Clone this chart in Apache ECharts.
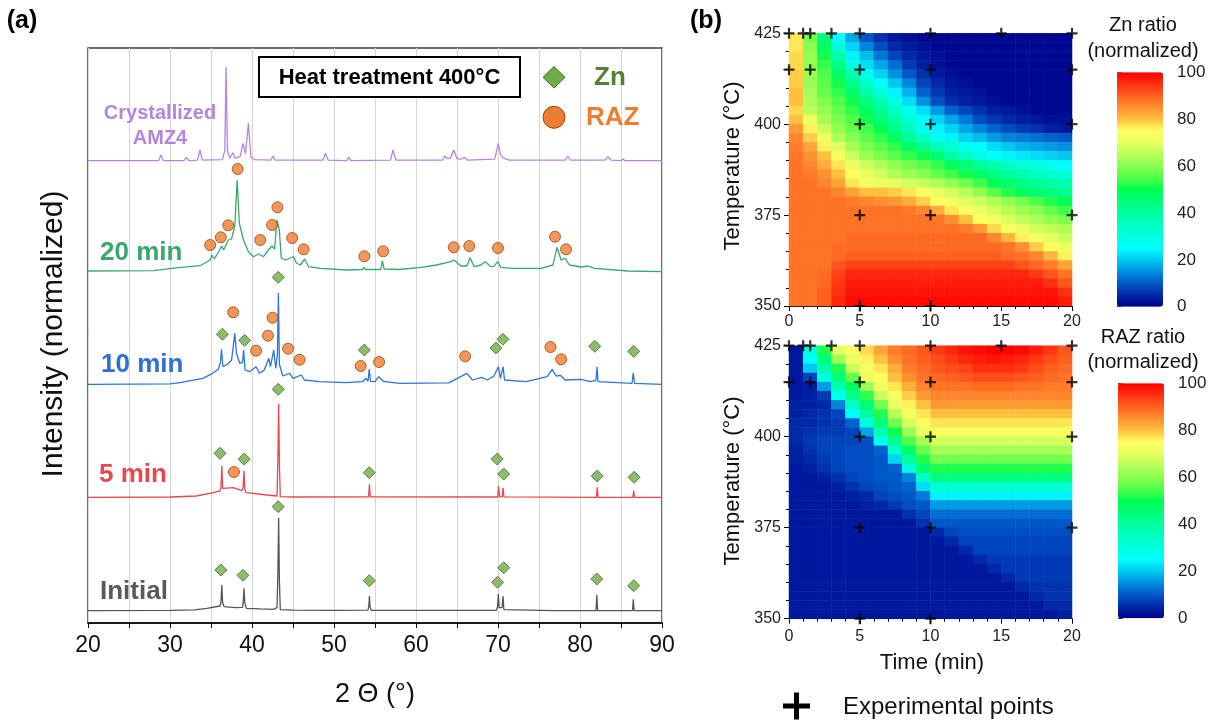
<!DOCTYPE html>
<html><head><meta charset="utf-8">
<script src="https://cdn.jsdelivr.net/npm/echarts@6.0.0/dist/echarts.min.js"></script>
<style>html,body{margin:0;padding:0;background:#fff}#c{width:1213px;height:722px}</style>
</head><body><div id="c"></div>
<script>
// ================= DATA =================
// (a) XRD patterns: [2theta (deg), intensity above own baseline]
const twoThetaLabels = [20, 30, 40, 50, 60, 70, 80, 90];
const patternNames = ['Initial', '5 min', '10 min', '20 min', 'Crystallized AMZ4'];
const baselineOffsets = [12.3, 125.7, 238.7, 352, 462.3];

const initialPattern = [[20,0],[30,0.3],[33,0.8],[34.5,2.4],[36.1,4.7],[36.22,9],[36.32,25.7],[36.42,8],[36.6,4],[38.0,3],[38.85,3.3],[38.95,10],[39.03,22.4],[39.12,8],[39.3,2.4],[41,1.8],[42.6,1.4],[43.05,3],[43.15,35],[43.25,93],[43.34,30],[43.45,1],[45,0.5],[50,0.3],[54.15,0.5],[54.25,5],[54.32,14.7],[54.4,4],[54.55,0.3],[69.8,0.3],[69.95,4],[70.04,16.7],[70.15,3],[70.5,3],[70.61,14.7],[70.72,1],[76.9,0],[77.0,2],[77.1,0],[81.95,0],[82.05,15.7],[82.15,0],[83.8,0],[83.9,1.5],[84.0,0],[86.4,0],[86.5,11.4],[86.6,0],[90,0]];
const fiveMinPattern = [[20,0],[30,0.3],[33.2,1.3],[35.3,4.6],[36.1,6.5],[36.22,10],[36.32,31.3],[36.42,9],[36.6,7.3],[37.7,9.6],[38.75,6.6],[38.92,10],[39.02,26.6],[39.12,8],[39.3,4.6],[41.8,2.3],[43.05,1.3],[43.15,35],[43.25,93.3],[43.35,30],[43.45,0.6],[45,0.3],[54.22,0.5],[54.32,13],[54.42,0.5],[69.98,0.3],[70.06,11.3],[70.2,0.5],[70.52,0.5],[70.62,9.6],[70.72,0.5],[82.0,0],[82.1,10],[82.2,0],[86.45,0],[86.55,6.6],[86.65,0],[90,0]];
const tenMinPattern = [[20,0],[30,0.5],[31.2,1.6],[34.0,6],[35.2,11],[35.9,15],[36.15,22],[36.28,35],[36.45,17.6],[37.05,20.3],[37.5,24],[37.75,40],[37.9,51],[38.1,31.3],[38.5,21],[38.85,22],[38.98,34.3],[39.15,14.3],[39.7,12.6],[40.5,17.6],[40.9,11],[41.5,14.3],[42.05,26],[42.25,17.6],[42.65,34.3],[42.9,16],[43.1,30],[43.22,91.6],[43.34,20],[43.75,8.3],[44.6,11],[45.0,6],[46.0,9.3],[46.4,4.3],[48.2,2.6],[51.5,1.6],[53.5,2.6],[53.9,6],[54.15,3],[54.3,15.3],[54.45,3],[55.0,2.6],[55.45,7.6],[56.0,3],[58,1],[64,1.5],[66.2,11],[66.9,4.3],[68.0,7],[68.7,4.3],[69.5,8.3],[70.05,17.6],[70.3,6],[70.62,17.6],[70.8,4.3],[73.4,2.6],[76.0,7.6],[76.6,15],[77.1,8.3],[77.6,9],[78.2,4.3],[80.1,5],[81.3,2.6],[81.95,4],[82.08,17.6],[82.2,2.6],[86.35,1],[86.5,11.6],[86.65,1],[90,0]];
const twentyMinPattern = [[20,0],[28,0.3],[31.0,3.3],[33.66,5.3],[34.9,11],[35.1,16],[35.4,12],[36.0,20],[36.3,25],[36.55,21],[37.1,31],[37.5,32],[37.9,45],[38.19,91],[38.45,48],[38.96,31],[39.57,19.3],[40.18,14.3],[40.8,17],[41.4,14.3],[42.0,21],[42.43,25],[42.75,22],[43.05,51],[43.33,41],[43.57,13],[44.06,11],[44.67,13],[45.08,14.3],[45.4,8],[45.9,6],[46.42,12],[46.9,4.3],[48.34,2.7],[51.6,1],[53.45,1.5],[53.64,3.7],[53.85,1.5],[55.7,1.5],[55.9,10.3],[56.1,2],[58,1.5],[60.6,3.7],[62.5,6],[64.25,9.3],[64.65,11],[65.47,5],[66.2,5],[66.6,13.3],[67.1,4.3],[67.9,6],[68.44,9.3],[69.14,4.3],[69.5,4.6],[69.96,9.3],[70.36,3.7],[71.6,2.7],[75.25,2.7],[76.7,6],[77.2,23.7],[77.7,11],[78.2,12.7],[78.7,6],[80.2,4],[80.97,5],[81.77,2.7],[85.86,0],[90,-0.7]];
const crystPattern = [[20,0],[28.6,0],[28.9,5.7],[29.2,0],[31.7,0],[32.0,3.4],[32.3,0],[33.35,0.5],[33.66,10.7],[33.95,0.5],[36.4,1],[36.68,10],[36.84,93.4],[37.0,10],[37.3,2.5],[37.66,8],[37.95,2.5],[38.55,4],[38.9,17.4],[39.2,7],[39.57,37.4],[39.85,4],[40.3,1],[42.3,0.5],[42.55,4.7],[42.8,0.5],[48.65,0.5],[48.95,7.4],[49.3,0.5],[51.55,0],[51.8,3.4],[52.05,0],[56.9,0.5],[57.2,10.7],[57.55,0.5],[63.25,0.5],[63.5,4.7],[63.85,2],[64.2,2.5],[64.6,10.7],[65.0,2],[65.5,1.5],[65.9,3.4],[66.3,0.5],[69.6,1.5],[70.03,17.4],[70.3,6],[70.6,3],[71.3,0.5],[78.2,0.5],[78.5,4.7],[78.85,0.5],[83.05,0.5],[83.4,4],[83.8,0.5],[85.0,0],[85.25,1.7],[85.5,0],[90,0]];

// phase markers: [2theta, height above own baseline]
const initialZnMarks = [[36.2,40.7],[38.9,35.4],[43.2,104],[54.3,30],[69.95,28.4],[70.7,43],[82.05,31.7],[86.55,25]];
const fiveMinZnMarks = [[36.1,44],[39.05,38.3],[43.2,108],[54.3,24.6],[69.9,38.3],[70.7,23.3],[82.1,21.3],[86.6,20]];
const fiveMinRazMarks = [[37.8,25.3]];
const tenMinZnMarks = [[36.4,50],[39.1,44],[43.2,107],[53.7,34.3],[69.75,36.3],[70.6,45],[81.8,38],[86.55,33]];
const tenMinRazMarks = [[37.7,72],[40.5,33.6],[41.95,48.6],[42.5,66.6],[44.4,35.6],[45.8,24.6],[53.25,18.3],[55.5,22.3],[66.0,28],[76.4,37.3],[77.7,25]];
const twentyMinRazMarks = [[34.9,26],[36.2,33.7],[37.1,45.7],[38.25,102],[41.0,31],[42.45,46],[43.1,63.7],[44.9,33],[46.3,21.7],[53.7,14.7],[56.0,19.7],[64.6,23.7],[66.5,25],[70.0,23],[76.95,34.3],[78.3,21.7]];

// (b) maps: cells of 1 min x 2.5 degC; rows listed from 423.75 degC (top) down to 351.25 degC
const timeCells = [0.5,1.5,2.5,3.5,4.5,5.5,6.5,7.5,8.5,9.5,10.5,11.5,12.5,13.5,14.5,15.5,16.5,17.5,18.5,19.5];
const tempCells = [351.25,353.75,356.25,358.75,361.25,363.75,366.25,368.75,371.25,373.75,376.25,378.75,381.25,383.75,386.25,388.75,391.25,393.75,396.25,398.75,401.25,403.75,406.25,408.75,411.25,413.75,416.25,418.75,421.25,423.75];
const timeTicks = [0, 5, 10, 15, 20];
const tempTicks = [350, 375, 400, 425];
const ratioTicks = [0, 20, 40, 60, 80, 100];
const znRatioRows = [
 [77,58,45,25,17,10,6,3,2,1,1,1,1,1,1,1,1,1,1,1],
 [77,60,48,31,21,14,9,5,3,2,1,1,1,1,1,1,1,1,1,1],
 [78,61,51,38,24,19,13,8,5,3,2,1,1,1,1,1,1,1,1,1],
 [78,61,53,43,30,22,17,12,7,4,2,1,1,1,1,1,1,1,1,1],
 [79,62,55,47,37,27,21,15,10,6,3,2,1,1,1,1,1,1,1,1],
 [79,62,56,51,42,34,25,20,14,8,5,3,2,1,1,1,1,1,1,1],
 [80,63,57,53,47,39,31,24,18,11,7,4,3,2,1,1,1,1,1,1],
 [80,64,59,55,51,44,37,29,22,15,9,6,4,3,2,1,1,1,1,1],
 [78,65,61,57,53,48,42,35,27,22,16,11,8,6,4,3,2,1,1,1],
 [80,71,63,59,55,51,45,39,32,26,21,17,13,9,7,5,4,3,2,2],
 [84,76,67,61,57,54,50,43,36,28,24,21,17,14,11,9,7,6,4,3],
 [86,79,72,64,60,56,53,48,41,34,27,24,21,19,16,14,13,12,11,10],
 [87,83,76,69,63,59,56,53,48,43,37,32,28,25,22,20,18,17,16,15],
 [88,85,80,73,67,62,59,56,53,51,46,40,35,30,26,24,23,22,21,20],
 [88,86,82,77,71,67,64,61,58,56,53,49,45,41,37,34,31,29,27,25],
 [88,87,85,80,74,71,68,64,62,60,57,54,51,47,44,41,38,35,33,31],
 [88,88,86,83,77,73,71,70,68,66,64,61,58,54,49,46,43,41,39,37],
 [88,88,88,86,83,80,80,79,77,74,71,68,65,61,56,52,49,46,44,42],
 [88,88,88,88,87,86,85,84,82,79,75,72,69,67,64,61,58,55,52,49],
 [88,88,88,88,88,88,88,88,87,86,82,77,74,71,68,65,62,60,57,54],
 [88,88,88,88,88,88,88,88,88,88,88,85,80,75,72,69,66,64,61,59],
 [88,88,88,88,88,88,88,88,88,88,88,88,87,84,78,74,71,68,66,64],
 [88,88,88,88,89,89,89,89,89,89,89,89,89,89,86,81,76,73,70,67],
 [88,88,88,89,89,89,89,89,89,89,89,89,89,89,89,88,85,79,74,71],
 [88,88,88,89,90,90,90,90,90,90,90,90,90,90,90,89,88,86,81,76],
 [88,88,88,91,93,93,93,93,93,93,93,93,93,93,93,93,91,89,87,83],
 [88,88,89,93,96,96,96,96,96,96,96,96,96,96,96,96,96,94,91,88],
 [88,88,89,94,97,97,97,97,97,97,97,97,97,97,97,97,97,97,95,91],
 [88,88,90,95,98,98,98,98,98,98,98,98,98,98,98,98,98,98,98,95],
 [88,88,90,96,99,99,99,99,99,99,99,99,99,99,99,99,99,99,99,97]
];
const razRatioRows = [
 [3,32,52,70,74,78,83,87,89,91,94,96,98,99,100,100,99,97,94,91],
 [3,25,45,62,71,76,80,85,88,90,92,94,96,97,98,97,96,94,92,90],
 [3,20,38,52,67,73,77,82,87,89,91,92,93,95,95,95,94,92,90,89],
 [3,8,30,45,57,71,75,80,85,88,89,90,91,92,92,92,91,90,89,88],
 [3,4,16,37,49,62,72,77,82,86,88,88,88,89,89,89,88,88,87,87],
 [3,4,7,28,42,53,67,74,79,84,86,86,86,86,86,86,86,86,86,86],
 [4,4,5,14,35,46,58,71,76,80,84,84,84,84,84,84,84,84,84,84],
 [4,5,6,8,25,40,52,65,73,77,80,80,80,80,80,80,80,80,80,80],
 [5,5,6,7,11,31,45,58,68,74,77,77,77,77,77,77,77,77,77,77],
 [5,6,7,7,8,17,37,51,62,71,73,73,73,73,73,73,73,73,73,73],
 [5,7,8,8,8,9,27,42,55,63,68,68,68,68,68,68,68,68,68,68],
 [4,6,8,8,9,9,11,33,47,57,63,63,63,63,63,63,63,63,63,63],
 [4,5,7,8,9,9,10,21,40,52,58,58,58,58,58,58,58,58,58,58],
 [3,4,6,8,9,9,10,11,30,46,52,52,52,52,52,52,52,52,52,52],
 [3,3,4,6,8,9,10,10,14,34,44,44,44,44,44,44,44,44,44,44],
 [3,3,3,4,6,8,9,10,11,22,32,32,32,32,32,32,32,32,32,32],
 [3,3,3,3,4,5,8,9,10,13,24,24,24,24,24,24,24,24,24,24],
 [3,3,3,3,3,4,5,7,9,10,16,16,16,16,16,16,16,16,16,16],
 [3,3,3,3,3,3,3,3,6,8,12,12,12,12,12,12,12,12,12,12],
 [3,3,3,3,3,3,3,3,3,6,10,10,10,10,10,10,10,10,10,10],
 [3,3,3,3,3,3,3,3,3,3,5,8,9,9,9,9,9,9,9,9],
 [3,3,3,3,3,3,3,3,3,3,3,5,8,8,8,8,8,8,8,8],
 [3,3,3,3,3,3,3,3,3,3,3,3,5,8,8,8,8,8,8,8],
 [3,3,3,3,3,3,3,3,3,3,3,3,3,5,7,7,7,7,7,7],
 [3,3,3,3,3,3,3,3,3,3,3,3,3,3,5,7,7,7,7,7],
 [3,3,3,3,3,3,3,3,3,3,3,3,3,3,3,5,7,7,7,7],
 [3,3,3,3,3,3,3,3,3,3,3,3,3,3,3,3,5,6,6,6],
 [3,3,3,3,3,3,3,3,3,3,3,3,3,3,3,3,3,5,6,6],
 [3,3,3,3,3,3,3,3,3,3,3,3,3,3,3,3,3,3,5,5],
 [3,3,3,3,3,3,3,3,3,3,3,3,3,3,3,3,3,3,3,4]
];
// experimental points [time (min), temperature (degC)]
const experimentalPoints = [[0,425],[1,425],[1.5,425],[3,425],[5,425],[10,425],[15,425],[20,425],[0,415],[1.5,415],[5,415],[10,415],[20,415],[5,400],[10,400],[20,400],[5,375],[10,375],[20,375],[5,350],[10,350]];

// ================= STYLE =================
const FONT = 'Arial, "Liberation Sans", Helvetica, sans-serif';
const lineColors = ['#555555', '#e8474f', '#2f74d8', '#3aa86d', '#b585de'];
const labelColors = ['#595959', '#e8474f', '#2f6fd6', '#3aa86d', '#b585de'];
const jet = ['#00008c','#0028a8','#0058c8','#0090e0','#00c8f0','#00ffff','#00ffe0','#00ffc0','#00ffa0','#00ff78','#00ff50','#50ff48','#88ff50','#b8ff5a','#e8ff60','#ffff60','#ffc040','#ff9030','#ff6020','#ff3010','#ff0000'];

const patterns = [initialPattern, fiveMinPattern, tenMinPattern, twentyMinPattern, crystPattern];
const shift = (arr, i) => arr.map(d => [d[0], d[1] + baselineOffsets[i]]);
const znMarks = [].concat(shift(initialZnMarks, 0), shift(fiveMinZnMarks, 1), shift(tenMinZnMarks, 2));
const razMarks = [].concat(shift(fiveMinRazMarks, 1), shift(tenMinRazMarks, 2), shift(twentyMinRazMarks, 3));
function cells(rows) {
  const out = [];
  rows.forEach((row, r) => row.forEach((v, c) => out.push([c, tempCells.length - 1 - r, v])));
  return out;
}
const plusPath = 'path://M0,4H10V6H0Z M4,0H6V10H4Z';

const series = [];
patterns.forEach((p, i) => series.push({
  type: 'line', xAxisIndex: 0, yAxisIndex: 0, data: shift(p, i), showSymbol: false, symbol: 'none',
  lineStyle: { width: 1.3, color: lineColors[i] }, silent: true, z: 2, animation: false
}));
series.push({ type: 'scatter', xAxisIndex: 0, yAxisIndex: 0, data: znMarks, symbol: 'diamond', symbolSize: 12,
  itemStyle: { color: '#70ad47', borderColor: '#43692b', borderWidth: 1 }, z: 5, silent: true });
series.push({ type: 'scatter', xAxisIndex: 0, yAxisIndex: 0, data: razMarks, symbol: 'circle', symbolSize: 11,
  itemStyle: { color: '#ed7d31', borderColor: '#9a4612', borderWidth: 1 }, z: 5, silent: true });
const znHeatIndex = series.length;
series.push({ type: 'heatmap', xAxisIndex: 1, yAxisIndex: 1, data: cells(znRatioRows), silent: true, progressive: 0,
  itemStyle: { borderWidth: 0 }, emphasis: { disabled: true } });
const razHeatIndex = series.length;
series.push({ type: 'heatmap', xAxisIndex: 3, yAxisIndex: 3, data: cells(razRatioRows), silent: true, progressive: 0,
  itemStyle: { borderWidth: 0 }, emphasis: { disabled: true } });
[2, 4].forEach(ax => series.push({ type: 'scatter', xAxisIndex: ax, yAxisIndex: ax, data: experimentalPoints,
  symbol: plusPath, symbolSize: 11, itemStyle: { color: '#000' }, z: 6, silent: true }));

const catAxis = (g, data) => ({ type: 'category', gridIndex: g, data: data, show: false });
const mapX = (g, margin) => ({
  type: 'value', gridIndex: g, min: 0, max: 20, interval: 5,
  axisLine: { show: true, onZero: false, lineStyle: { color: '#000', width: 1 } },
  axisTick: { show: true, length: 5, lineStyle: { color: '#000' } },
  minorTick: { show: true, splitNumber: 5, length: 3, lineStyle: { color: '#000' } },
  splitLine: { show: false },
  axisLabel: { fontSize: 16, color: '#222', fontFamily: FONT, margin: margin, formatter: v => timeTicks.includes(v) ? String(v) : '' }
});
const mapY = (g) => ({
  type: 'value', gridIndex: g, min: 350, max: 425, interval: 25,
  axisLine: { show: true, onZero: false, lineStyle: { color: '#000', width: 1 } },
  axisTick: { show: true, length: 5, lineStyle: { color: '#000' } },
  minorTick: { show: true, splitNumber: 5, length: 3, lineStyle: { color: '#000' } },
  splitLine: { show: false },
  axisLabel: { fontSize: 16, color: '#222', fontFamily: FONT, margin: 8, formatter: v => tempTicks.includes(v) ? String(v) : '' }
});
const barY = (g) => ({
  type: 'value', gridIndex: g, min: 0, max: 100, interval: 20, position: 'right',
  axisLine: { show: false },
  axisTick: { show: true, length: 5, lineStyle: { color: '#333' } },
  minorTick: { show: true, splitNumber: 4, length: 3, lineStyle: { color: '#333' } },
  splitLine: { show: false },
  axisLabel: { fontSize: 17, color: '#222', fontFamily: FONT, margin: 14, formatter: v => ratioTicks.includes(v) ? String(v) : '' }
});
const barX = (g) => ({ type: 'value', gridIndex: g, min: 0, max: 1, show: false });

const txt = (x, y, text, size, color, opts) => Object.assign({
  type: 'text', x: x, y: y, z: 20, silent: true,
  style: Object.assign({ text: text, fontSize: size, fontFamily: FONT, fill: color, align: 'center', verticalAlign: 'middle' }, (opts && opts.style) || {})
}, (opts && opts.el) || {});

const graphics = [
  txt(22, 21, '(a)', 25, '#000', { style: { fontWeight: 'bold' } }),
  txt(706, 21, '(b)', 25, '#000', { style: { fontWeight: 'bold' } }),
  txt(54, 334, 'Intensity (normalized)', 30, '#111', { el: { rotation: Math.PI / 2 } }),
  txt(375, 695, '2 Θ (°)', 27, '#111'),
  { type: 'rect', z: 19, silent: true, shape: { x: 259, y: 57, width: 261, height: 40 }, style: { fill: '#fff', stroke: '#000', lineWidth: 2 } },
  txt(389.5, 77.5, 'Heat treatment 400°C', 22, '#000', { style: { fontWeight: 'bold' } }),
  { type: 'polygon', z: 19, silent: true, shape: { points: [[554, 66.5], [565, 77.3], [554, 88.1], [543, 77.3]] }, style: { fill: '#70ad47', stroke: '#43692b', lineWidth: 1 } },
  { type: 'circle', z: 19, silent: true, shape: { cx: 554, cy: 117.3, r: 11 }, style: { fill: '#ed7d31', stroke: '#9a4612', lineWidth: 1 } },
  txt(594, 78, 'Zn', 26, '#548235', { style: { fontWeight: 'bold', align: 'left' } }),
  txt(586, 118, 'RAZ', 26, '#ed7d31', { style: { fontWeight: 'bold', align: 'left' } }),
  txt(100, 592, patternNames[0], 26, labelColors[0], { style: { fontWeight: 'bold', align: 'left' } }),
  txt(99, 475, patternNames[1], 26, labelColors[1], { style: { fontWeight: 'bold', align: 'left' } }),
  txt(101, 365, patternNames[2], 26, labelColors[2], { style: { fontWeight: 'bold', align: 'left' } }),
  txt(100, 253, patternNames[3], 26, labelColors[3], { style: { fontWeight: 'bold', align: 'left' } }),
  txt(160, 113.5, 'Crystallized', 20, labelColors[4], { style: { fontWeight: 'bold' } }),
  txt(160, 138.5, 'AMZ4', 20, labelColors[4], { style: { fontWeight: 'bold' } }),
  txt(733, 166, 'Temperature (°C)', 22, '#111', { el: { rotation: Math.PI / 2 } }),
  txt(733, 481, 'Temperature (°C)', 22, '#111', { el: { rotation: Math.PI / 2 } }),
  txt(932, 663, 'Time (min)', 22, '#111'),
  txt(1143, 25, 'Zn ratio', 20, '#111'),
  txt(1143, 51, '(normalized)', 20, '#111'),
  txt(1143, 337, 'RAZ ratio', 20, '#111'),
  txt(1143, 362, '(normalized)', 20, '#111'),
  { type: 'rect', z: 19, silent: true, shape: { x: 783, y: 703.5, width: 27, height: 5 }, style: { fill: '#000' } },
  { type: 'rect', z: 19, silent: true, shape: { x: 794, y: 692.5, width: 5, height: 27 }, style: { fill: '#000' } },
  txt(843, 707, 'Experimental points', 24, '#111', { style: { align: 'left' } })
];

const option = {
  animation: false,
  backgroundColor: '#fff',
  textStyle: { fontFamily: FONT },
  grid: [
    { left: 88, top: 48, width: 574, height: 575, show: true, borderColor: '#404040', borderWidth: 1.5, backgroundColor: 'transparent' },
    { left: 789, top: 33.3, width: 283, height: 272.7 },
    { left: 789, top: 33.3, width: 283, height: 272.7 },
    { left: 789, top: 345.7, width: 283, height: 273 },
    { left: 789, top: 345.7, width: 283, height: 273 },
    { left: 1117, top: 72.3, width: 46, height: 234.4 },
    { left: 1118, top: 383.3, width: 46, height: 235 }
  ],
  xAxis: [
    { type: 'value', gridIndex: 0, min: 20, max: 90, interval: 5,
      axisLine: { show: true, onZero: false, lineStyle: { color: '#000', width: 1.5 } },
      axisTick: { show: true, length: 5, lineStyle: { color: '#000', width: 1 } },
      splitLine: { show: true, lineStyle: { color: '#d6d6d6', width: 1 } },
      axisLabel: { fontSize: 23, color: '#111', fontFamily: FONT, margin: 11, formatter: v => twoThetaLabels.includes(v) ? String(v) : '' } },
    catAxis(1, timeCells), mapX(2, 8), catAxis(3, timeCells), mapX(4, 10), barX(5), barX(6)
  ],
  yAxis: [
    { type: 'value', gridIndex: 0, min: 0, max: 575, show: false, splitLine: { show: false } },
    catAxis(1, tempCells), mapY(2), catAxis(3, tempCells), mapY(4), barY(5), barY(6)
  ],
  visualMap: [
    { type: 'continuous', min: 0, max: 100, seriesIndex: znHeatIndex, calculable: false, orient: 'vertical',
      left: 1117, top: 72.3, itemWidth: 46, itemHeight: 234.4, padding: 0, hoverLink: false, inRange: { color: jet } },
    { type: 'continuous', min: 0, max: 100, seriesIndex: razHeatIndex, calculable: false, orient: 'vertical',
      left: 1118, top: 383.3, itemWidth: 46, itemHeight: 235, padding: 0, hoverLink: false, inRange: { color: jet } }
  ],
  graphic: graphics,
  series: series
};
const chart = echarts.init(document.getElementById('c'));
chart.setOption(option);
</script>
</body></html>
